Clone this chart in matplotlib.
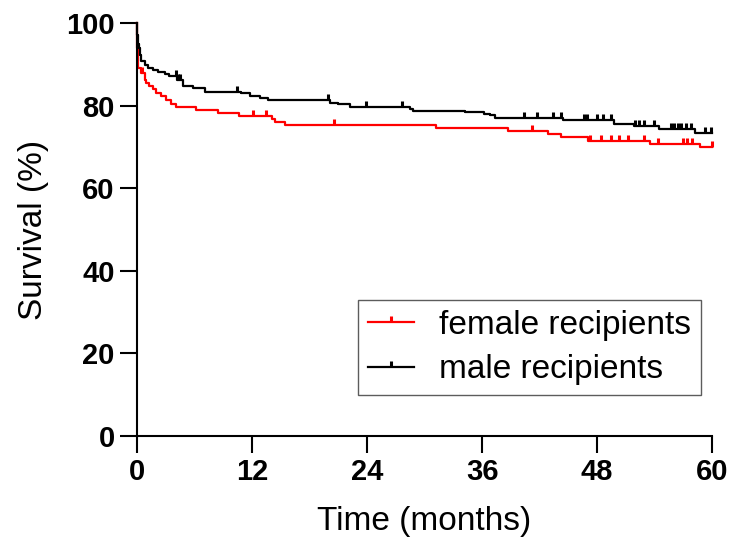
import matplotlib
matplotlib.use('Agg')
import matplotlib.pyplot as plt
import numpy as np
from matplotlib.path import Path
from matplotlib.lines import Line2D

plt.rcParams['font.family'] = ['Liberation Sans', 'DejaVu Sans']

# Kaplan-Meier steps (time in months, survival in %)
female_t = [0, 0.05, 0.1, 0.45, 0.8, 0.97, 1.3, 1.67, 2.0, 2.5, 3.06, 3.6, 4.1,
            6.2, 8.5, 10.6, 14.1, 14.4, 15.4, 31.2, 38.7, 42.9, 44.2, 47.0, 53.5, 58.7]
female_s = [100, 94, 89.1, 87.9, 86.3, 85.5, 84.7, 83.9, 83.1, 82.3, 81.4, 80.4, 79.6,
            78.9, 78.3, 77.5, 76.7, 76.1, 75.3, 74.6, 73.9, 73.2, 72.4, 71.5, 70.8, 70.0]
female_cens = [0.5, 12.1, 13.5, 20.6, 41.2, 47.3, 48.4, 49.4, 50.3, 51.2, 52.9, 54.3,
               56.9, 57.4, 57.9, 60]

male_t = [0, 0.05, 0.1, 0.2, 0.28, 0.45, 0.8, 1.15, 1.67, 2.2, 2.9, 3.4, 4.2, 4.8,
          5.9, 7.1, 10.9, 11.8, 12.8, 13.7, 20.1, 21.0, 22.2, 28.5, 28.8, 34.2, 36.2,
          36.8, 37.3, 44.4, 49.8, 51.8, 54.5, 58.2]
male_s = [100, 97, 95, 93.9, 92.3, 90.7, 89.9, 89.1, 88.5, 88.1, 87.7, 87.1, 86.3, 84.7,
          84.3, 83.4, 83.0, 82.3, 81.9, 81.4, 80.7, 80.3, 79.6, 79.1, 78.7, 78.5, 78.0,
          77.6, 77.0, 76.4, 75.6, 75.0, 74.3, 73.4]
male_cens = [4.1, 4.3, 4.5, 10.4, 19.9, 23.9, 27.6, 40.4, 41.7, 43.4, 44.2, 46.6, 46.9,
             48.0, 48.6, 49.4, 51.9, 52.4, 52.9, 53.9, 55.7, 56.0, 56.4, 56.7, 57.3,
             57.8, 59.2, 59.9]

x_ticks = [0, 12, 24, 36, 48, 60]
y_ticks = [0, 20, 40, 60, 80, 100]

# upward tick used for censored patients
tick = Path([(0, 0), (0, 1)], [Path.MOVETO, Path.LINETO])


def surv_at(times, surv, t):
    idx = np.searchsorted(times, t, side='right') - 1
    return np.array(surv)[idx]


fig = plt.figure(figsize=(7.32, 5.47), dpi=100)
ax = fig.add_axes([0.187, 0.203, 0.786, 0.755])

for t, s, c, col in [(female_t, female_s, female_cens, 'red'),
                     (male_t, male_s, male_cens, 'black')]:
    tt = list(t) + [60]
    ss = list(s) + [s[-1]]
    ax.step(tt, ss, where='post', color=col, lw=1.6, clip_on=False)
    ax.plot(c, surv_at(t, s, c), ls='none', marker=tick, markersize=8,
            markeredgewidth=2.2, color=col, clip_on=False)

ax.set_xlim(0, 60)
ax.set_ylim(0, 100)
ax.set_xticks(x_ticks)
ax.set_yticks(y_ticks)
ax.spines['top'].set_visible(False)
ax.spines['right'].set_visible(False)
for sp in ['left', 'bottom']:
    ax.spines[sp].set_linewidth(1.5)
ax.tick_params(direction='out', length=12, width=1.5, pad=4)
for lab in ax.get_xticklabels() + ax.get_yticklabels():
    lab.set_fontsize(21)
    lab.set_fontweight('bold')

ax.set_xlabel('Time (months)', fontsize=24, labelpad=14)
ax.set_ylabel('Survival (%)', fontsize=24, labelpad=12)

handles = [Line2D([], [], color='red', lw=1.6, marker=tick, markersize=8, markeredgewidth=2.2),
           Line2D([], [], color='black', lw=1.6, marker=tick, markersize=8, markeredgewidth=2.2)]
leg = ax.legend(handles, ['female recipients', 'male recipients'], fontsize=24,
                loc='upper left', bbox_to_anchor=(0.384, 0.329), borderaxespad=0,
                fancybox=False, frameon=True, handlelength=1.4, numpoints=1,
                borderpad=0.3, labelspacing=0.4, handletextpad=0.75)
leg.get_frame().set_edgecolor('#333333')
leg.get_frame().set_linewidth(1.0)

fig.savefig('out.png', dpi=100)
